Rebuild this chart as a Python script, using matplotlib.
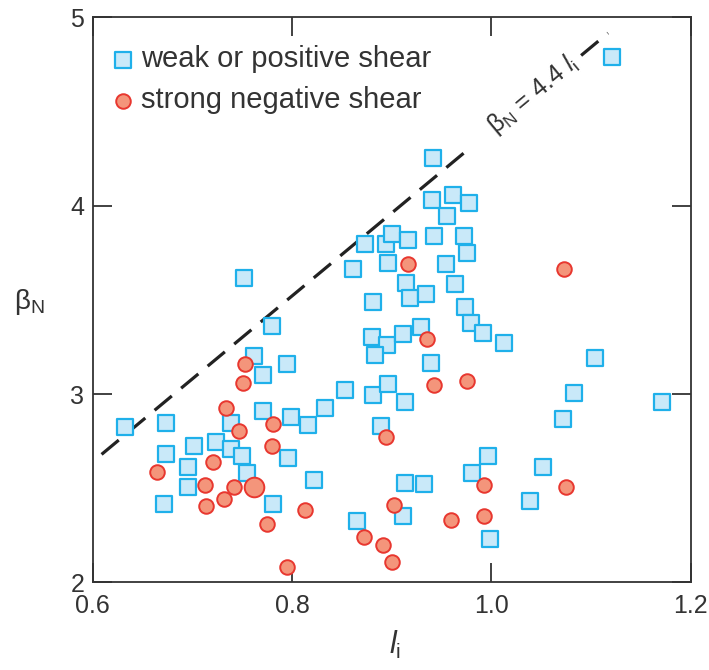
import matplotlib.pyplot as plt
import numpy as np

plt.rcParams['font.family'] = ['Liberation Sans', 'DejaVu Sans']
plt.rcParams['mathtext.fontset'] = 'custom'
plt.rcParams['mathtext.rm'] = 'Liberation Sans'
plt.rcParams['mathtext.it'] = 'Liberation Sans:italic'

# weak or positive shear (squares)
li_weak = [0.633, 0.674, 0.674, 0.702, 0.724, 0.739, 0.739, 0.750, 0.696, 0.696,
           0.672, 0.755, 0.771, 0.799, 0.816, 0.833, 0.796, 0.822, 0.781, 0.865,
           0.889, 0.881, 0.853, 0.913, 0.913, 0.911, 0.752, 0.780, 0.762, 0.771,
           0.795, 0.861, 0.881, 0.873, 0.894, 0.900, 0.916, 0.896, 0.914, 0.918,
           0.880, 0.895, 0.883, 0.911, 0.896, 0.940, 0.961, 0.978, 0.955, 0.942,
           0.973, 0.976, 0.954, 0.934, 0.964, 0.974, 0.980, 0.992, 1.013, 0.929,
           0.939, 1.104, 1.083, 1.171, 0.941, 1.121, 1.072, 0.997, 0.981, 1.052,
           0.932, 1.039, 0.999]
beta_weak = [2.827, 2.845, 2.682, 2.726, 2.744, 2.845, 2.707, 2.673, 2.614, 2.505,
             2.415, 2.579, 2.910, 2.880, 2.834, 2.924, 2.659, 2.544, 2.416, 2.328,
             2.830, 2.995, 3.021, 2.959, 2.529, 2.353, 3.617, 3.362, 3.202, 3.101,
             3.158, 3.662, 3.490, 3.794, 3.794, 3.847, 3.817, 3.693, 3.587, 3.508,
             3.304, 3.260, 3.207, 3.317, 3.051, 4.029, 4.056, 4.013, 3.946, 3.838,
             3.838, 3.746, 3.688, 3.529, 3.582, 3.463, 3.375, 3.322, 3.269, 3.357,
             3.166, 3.189, 3.004, 2.958, 4.250, 4.786, 2.867, 2.673, 2.582, 2.611,
             2.521, 2.434, 2.229]

# strong negative shear (circles)
li_strong = [0.753, 0.751, 0.734, 0.747, 0.781, 0.780, 0.721, 0.665, 0.713, 0.742,
             0.732, 0.714, 0.775, 0.813, 0.795, 0.894, 0.902, 0.872, 0.891, 0.900,
             0.916, 1.073, 0.935, 0.942, 0.976, 0.993, 1.075, 0.959, 0.993]
beta_strong = [3.159, 3.060, 2.927, 2.805, 2.839, 2.726, 2.641, 2.585, 2.517, 2.508,
               2.441, 2.406, 2.309, 2.385, 2.084, 2.773, 2.411, 2.243, 2.199, 2.110,
               3.689, 3.663, 3.291, 3.048, 3.069, 2.517, 2.508, 2.332, 2.353]
# one highlighted (larger) point
li_big = [0.762]
beta_big = [2.508]

slope = 4.4
line_segments = [(0.609, 0.976), (1.090, 1.117)]

sq_edge, sq_fill = '#1fb0ea', '#c9e9f9'
ci_edge, ci_fill = '#e8372f', '#f4957b'
frame_col = '#333333'

fig = plt.figure(figsize=(7.09, 6.70), dpi=100)
ax = fig.add_axes([0.1306, 0.1306, 0.8437, 0.844])

for x0, x1 in line_segments:
    xs = np.array([x0, x1])
    ln, = ax.plot(xs, slope * xs, color='#222222', lw=2.3, zorder=2)
    ln.set_dashes((7, 3.8))

ax.scatter(li_weak, beta_weak, marker='s', s=125, facecolor=sq_fill,
           edgecolor=sq_edge, linewidth=1.6, zorder=3, label='weak or positive shear')
ax.scatter(li_strong, beta_strong, marker='o', s=110, facecolor=ci_fill,
           edgecolor=ci_edge, linewidth=1.4, zorder=4, label='strong negative shear')
ax.scatter(li_big, beta_big, marker='o', s=200, facecolor=ci_fill,
           edgecolor=ci_edge, linewidth=1.4, zorder=4)

ax.text(1.042, 4.59, r'$\mathrm{\beta_N}$ = 4.4 $l_\mathrm{i}$', rotation=39.7,
        rotation_mode='anchor', ha='center', va='center', fontsize=18, color='#333333')

ax.set_xlim(0.6, 1.2)
ax.set_ylim(2, 5)
ax.set_xticks([0.6, 0.8, 1.0, 1.2])
ax.set_xticklabels(['0.6', '0.8', '1.0', '1.2'])
ax.set_yticks([2, 3, 4, 5])
ax.set_yticklabels(['2', '3', '4', '5'])
ax.tick_params(direction='in', length=14, width=1.3, colors=frame_col,
               labelsize=18, top=True, right=True, pad=6)
ax.tick_params(axis='x', pad=8)
for sp in ax.spines.values():
    sp.set_color(frame_col)
    sp.set_linewidth(1.3)

ax.set_ylabel(r'$\mathrm{\beta_N}$', fontsize=20, rotation=0, color='#333333',
              ha='center', va='center')
ax.yaxis.set_label_coords(-0.105, 0.496)
ax.set_xlabel(r'$l_\mathrm{i}$', fontsize=22, color='#333333', va='center')
ax.xaxis.set_label_coords(0.506, -0.11)

ax.legend(loc='upper left', bbox_to_anchor=(-0.014, 0.999), frameon=False, fontsize=21,
          handlelength=0.75, handletextpad=0.25, labelspacing=0.45, borderaxespad=0.55,
          labelcolor='#333333')

fig.savefig('out.png', dpi=100)
